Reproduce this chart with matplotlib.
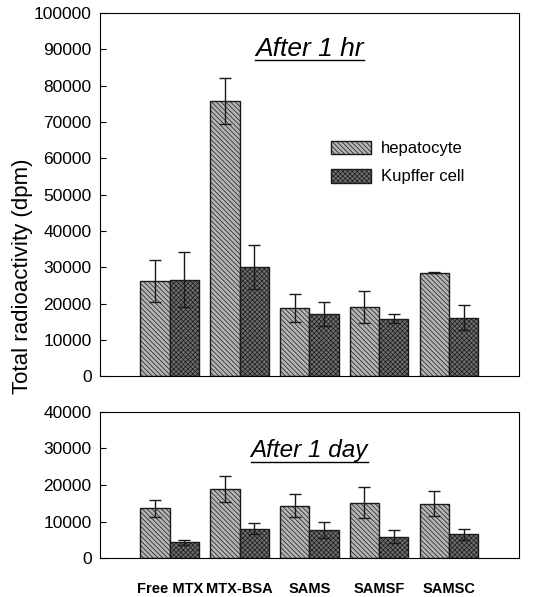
import numpy as np
import matplotlib
matplotlib.use("Agg")
import matplotlib.pyplot as plt
from matplotlib.patches import Patch

plt.rcParams['font.family'] = ['Liberation Sans', 'DejaVu Sans']
plt.rcParams['hatch.linewidth'] = 0.5

# data
groups = ["Free MTX", "MTX-BSA", "SAMS", "SAMSF", "SAMSC"]
series = ["hepatocyte", "Kupffer cell"]

hr_hep = [26200, 75700, 18700, 19000, 28500]
hr_hep_err = [5800, 6300, 3800, 4500, 200]
hr_kup = [26600, 30100, 17200, 15800, 16100]
hr_kup_err = [7600, 6100, 3300, 1300, 3500]

day_hep = [13600, 19000, 14400, 15200, 14900]
day_hep_err = [2300, 3500, 3200, 4200, 3400]
day_kup = [4300, 8100, 7700, 5900, 6500]
day_kup_err = [600, 1400, 2100, 1800, 1400]

hep_style = dict(facecolor='#b4b4b4', edgecolor='#1a1a1a', hatch='\\\\\\\\\\\\\\', linewidth=1.0)
kup_style = dict(facecolor='#6e6e6e', edgecolor='#1a1a1a', hatch='xxxxxxx', linewidth=1.0)


def draw_panel(ax, hep, hep_err, kup, kup_err, ymax, title, title_y, title_size):
    x = np.arange(1, len(groups) + 1)
    w = 0.42
    ax.bar(x - w / 2, hep, w, **hep_style)
    ax.bar(x + w / 2, kup, w, **kup_style)
    ax.errorbar(x - w / 2, hep, yerr=hep_err, fmt='none', ecolor='#1a1a1a',
                elinewidth=1.0, capsize=4, capthick=1.0)
    ax.errorbar(x + w / 2, kup, yerr=kup_err, fmt='none', ecolor='#1a1a1a',
                elinewidth=1.0, capsize=4, capthick=1.0)
    ax.set_xlim(0, 6)
    ax.set_ylim(0, ymax)
    ax.set_yticks(np.arange(0, ymax + 1, 10000))
    ax.tick_params(axis='y', direction='in', length=4, labelsize=12.5, pad=6)
    ax.tick_params(axis='x', length=0)
    t = ax.text(0.5, title_y, title, transform=ax.transAxes, ha='center',
                va='bottom', style='italic', fontsize=title_size)
    return t


fig = plt.figure(figsize=(5.46, 5.97), dpi=100)
ax1 = fig.add_axes([0.183, 0.370, 0.767, 0.608])
ax2 = fig.add_axes([0.183, 0.065, 0.767, 0.245])

t1 = draw_panel(ax1, hr_hep, hr_hep_err, hr_kup, hr_kup_err, 100000, "After 1 hr", 0.868, 19)
t2 = draw_panel(ax2, day_hep, day_hep_err, day_kup, day_kup_err, 40000, "After 1 day", 0.655, 17.5)

ax1.set_xticks([])
ax2.set_xticks(np.arange(1, len(groups) + 1))
ax2.set_xticklabels(groups, fontweight='bold', fontsize=10.5)
ax2.tick_params(axis='x', pad=17)

# underline the panel titles
fig.canvas.draw()
for ax, t in [(ax1, t1), (ax2, t2)]:
    bb = t.get_window_extent().transformed(ax.transAxes.inverted())
    ax.plot([bb.x0, bb.x1], [bb.y0 + 0.004, bb.y0 + 0.004], color='black',
            lw=1.0, transform=ax.transAxes, clip_on=False)

handles = [Patch(label=series[0], **hep_style), Patch(label=series[1], **kup_style)]
ax1.legend(handles=handles, loc='upper left', bbox_to_anchor=(0.515, 0.69),
           frameon=False, fontsize=12, handlelength=2.4, handleheight=0.9,
           labelspacing=0.75, handletextpad=0.6)

fig.text(0.041, 0.538, "Total radioactivity (dpm)", rotation=90, ha='center',
         va='center', fontsize=16)

fig.savefig("out.png", dpi=100)
